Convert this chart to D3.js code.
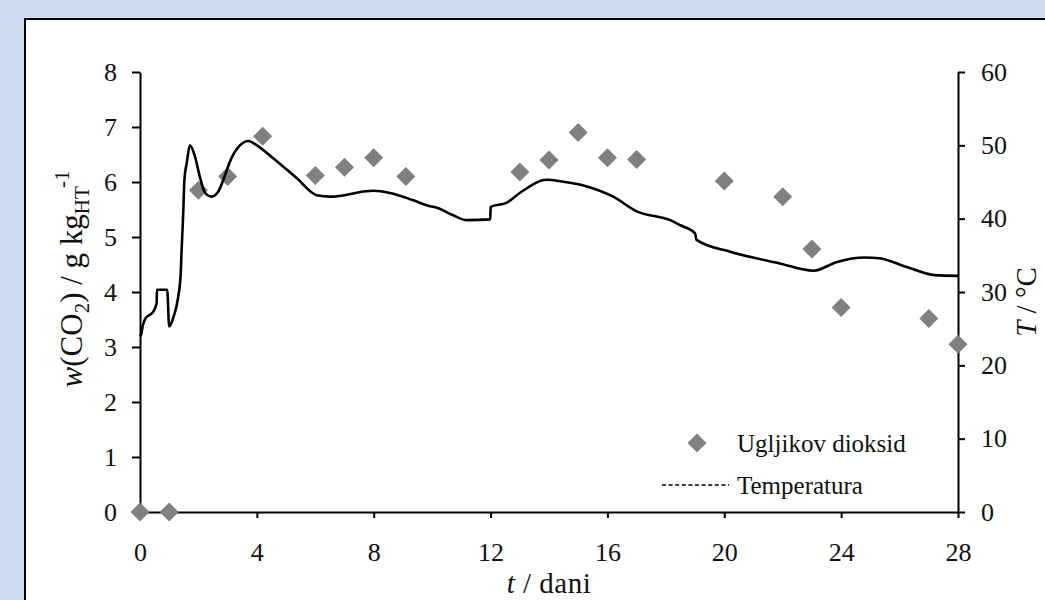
<!DOCTYPE html>
<html>
<head>
<meta charset="utf-8">
<script src="https://cdnjs.cloudflare.com/ajax/libs/d3/7.8.5/d3.min.js"></script>
<style>
    body { margin: 0; background: #cfdbf0; }
    svg { display: block; }
    text { font-family: "Liberation Serif", "Times New Roman", serif; fill: #111; }
</style>
</head>
<body>
<script>
//carbon dioxide measurements (day, g per kg)
var co2Days = [0, 1, 2, 3, 4.2, 6, 7, 8, 9.1, 13, 14, 15, 16, 17, 20, 22, 23, 24, 27, 28];
var co2Values = [0, 0, 5.85, 6.1, 6.83, 6.12, 6.27, 6.44, 6.1, 6.18, 6.4, 6.9, 6.44, 6.41, 6.02, 5.73, 4.78, 3.72, 3.52, 3.05];

//temperature log (day, deg C)
var tempDays = [0, 0.03, 0.1, 0.2, 0.3, 0.45, 0.57, 0.58, 0.93, 1.0, 1.14, 1.31, 1.39, 1.43, 1.48, 1.52, 1.6, 1.71, 1.88, 2.05, 2.23, 2.45, 2.68, 2.97, 3.08, 3.42, 3.71, 4.0, 4.57, 5.37, 6.05, 6.5, 7.0, 7.65, 8.0, 8.56, 9.36, 9.93, 10.16, 10.7, 11.19, 11.99, 12.0, 12.56, 13.0, 13.93, 14.38, 15.3, 16.2, 17.0, 18.15, 18.5, 19.0, 19.05, 20.2, 21.9, 23.05, 23.86, 24.8, 25.3, 26.25, 27.2, 28.0];
var tempValues = [23.9, 24.1, 25.5, 26.5, 26.8, 27.3, 28.5, 30.3, 30.3, 25.3, 26.5, 29.4, 32.3, 36.2, 40.8, 45.3, 47.6, 50.0, 48.5, 45.7, 43.5, 43.0, 43.7, 46.6, 47.8, 50.0, 50.6, 50.0, 48.2, 45.5, 43.2, 43.0, 43.2, 43.7, 43.8, 43.5, 42.5, 41.7, 41.5, 40.5, 39.8, 39.9, 41.6, 42.2, 43.5, 45.3, 45.1, 44.4, 43.0, 41.0, 39.8, 39.1, 38.0, 37.1, 35.5, 33.9, 32.9, 34.1, 34.7, 34.6, 33.4, 32.3, 32.2];

var xTicks = [0, 4, 8, 12, 16, 20, 24, 28];
var yLeftTicks = [0, 1, 2, 3, 4, 5, 6, 7, 8];
var yRightTicks = [0, 10, 20, 30, 40, 50, 60];
var legendNames = ["Ugljikov dioksid", "Temperatura"];

var co2 = co2Days.map((d, i) => ({day: d, value: co2Values[i]}));
var temp = tempDays.map((d, i) => ({day: d, value: tempValues[i]}));

var width = 1045;
var height = 600;
var margin = ({top: 72, right: 87, bottom: 88, left: 140});

var x = d3.scaleLinear()
    .domain([0, 28])
    .range([margin.left, width - margin.right]);

var yLeft = d3.scaleLinear()
    .domain([0, 8])
    .range([height - margin.bottom, margin.top]);

var yRight = d3.scaleLinear()
    .domain([0, 60])
    .range([height - margin.bottom, margin.top]);

const svg = d3.select("body").append("svg")
    .attr("width", width)
    .attr("height", height);

//white chart panel
svg.append("rect")
    .attr("x", 25)
    .attr("y", 19)
    .attr("width", width)
    .attr("height", height)
    .attr("fill", "#fff")
    .attr("stroke", "#000")
    .attr("stroke-width", 2);

//axes
var xAxis = g => g
    .attr("transform", `translate(0,${height - margin.bottom})`)
    .call(d3.axisBottom(x).tickValues(xTicks).tickSize(6).tickSizeOuter(0))
    .call(g => g.selectAll("text").attr("y", 49).attr("dy", 0));

var yAxisLeft = g => g
    .attr("transform", `translate(${margin.left},0)`)
    .call(d3.axisLeft(yLeft).tickValues(yLeftTicks).tickSize(8).tickPadding(15).tickSizeOuter(0));

var yAxisRight = g => g
    .attr("transform", `translate(${width - margin.right},0)`)
    .call(d3.axisRight(yRight).tickValues(yRightTicks).tickSize(7).tickPadding(16).tickSizeOuter(0));

[xAxis, yAxisLeft, yAxisRight].forEach(a => {
    var g = svg.append("g").call(a);
    g.selectAll("path, line").attr("stroke", "#000").attr("stroke-width", 2);
    g.selectAll("text")
        .style("font-family", "'Liberation Serif', serif")
        .style("font-size", "26px")
        .attr("fill", "#111");
});

//diamond shape
var diamond = "M0,-9.5L9.5,0L0,9.5L-9.5,0Z";

svg.append("g")
    .attr("fill", "#808080")
    .selectAll("path").data(co2).enter().append("path")
        .attr("d", diamond)
        .attr("transform", d => `translate(${x(d.day)},${yLeft(d.value)})`);

//temperature line
var line = d3.line()
    .x(d => x(d.day))
    .y(d => yRight(d.value))
    .curve(d3.curveMonotoneX);

svg.append("path")
    .datum(temp)
    .attr("fill", "none")
    .attr("stroke", "#000")
    .attr("stroke-width", 2.6)
    .attr("stroke-linejoin", "round")
    .attr("d", line);

//axis titles
var xt = svg.append("text")
    .attr("x", (margin.left + width - margin.right) / 2)
    .attr("y", 593)
    .attr("text-anchor", "middle")
    .style("font-size", "29px")
    .style("letter-spacing", "0.5px");
xt.append("tspan").attr("font-style", "italic").text("t");
xt.append("tspan").text(" / dani");

var yl = svg.append("text")
    .attr("transform", "translate(82,279) rotate(-90)")
    .attr("text-anchor", "middle")
    .style("font-size", "31px");
yl.append("tspan").attr("font-style", "italic").text("w");
yl.append("tspan").text("(CO");
yl.append("tspan").attr("font-size", "21px").attr("dy", 7).text("2");
yl.append("tspan").attr("dy", -7).text(") / g kg");
yl.append("tspan").attr("font-size", "21px").attr("dy", 7).text("HT");
yl.append("tspan").attr("font-size", "21px").attr("dy", -20).text("-1");

var yr = svg.append("text")
    .attr("transform", "translate(1036,302) rotate(-90)")
    .attr("text-anchor", "middle")
    .style("font-size", "29px");
yr.append("tspan").attr("font-style", "italic").text("T");
yr.append("tspan").text(" / °C");

//legend
var legend = svg.append("g");

legend.append("path")
    .attr("d", diamond)
    .attr("fill", "#808080")
    .attr("transform", "translate(697,443)");

legend.append("line")
    .attr("x1", 662).attr("x2", 729)
    .attr("y1", 485).attr("y2", 485)
    .attr("stroke", "#000")
    .attr("stroke-width", 1.3)
    .attr("stroke-dasharray", "4,2.6");

legend.selectAll("text").data(legendNames).enter().append("text")
    .attr("x", 737)
    .attr("y", (d, i) => 452 + i * 42)
    .style("font-size", "25px")
    .text(d => d);
</script>
</body>
</html>
